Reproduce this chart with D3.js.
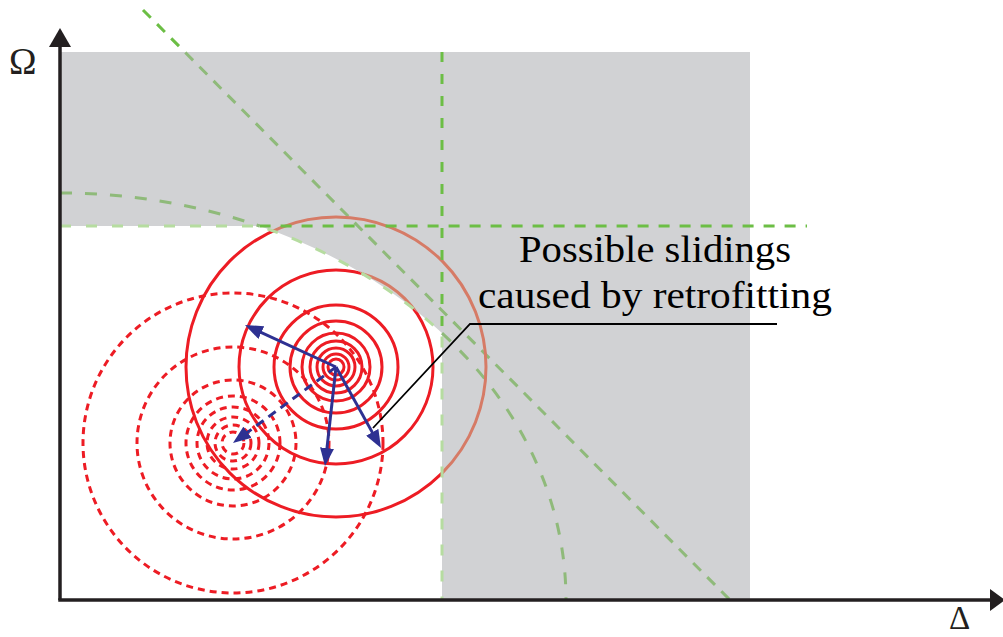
<!DOCTYPE html>
<html>
<head>
<meta charset="utf-8">
<script src="https://cdn.jsdelivr.net/npm/d3@7/dist/d3.min.js"></script>
<style>
  html, body { margin: 0; padding: 0; background: #ffffff; }
  svg { display: block; }
</style>
</head>
<body>
<script>
// ---- Diagram values (Δ, Ω units) ----
const axisLabels = ["Δ", "Ω"];
const axisExtent = [9.43, 6.0];          // Δ and Ω shown on the axes
const greyExtent = [6.90, 5.48];         // shaded domain
const deltaLimit = [3.82];               // vertical admissible limit on Δ
const omegaLimit = [3.74];               // horizontal admissible limit on Ω
const envelopeAxes = [5.06, 4.07];       // elliptic interaction envelope (Δ, Ω semi-axes)
const diagonalEnds = [[0.83, 5.90], [6.70, 0.0]];
const currentCentre = [2.76, 2.33];
const shiftedCentre = [1.73, 1.57];
const solidRadii = [1.50, 0.97, 0.62, 0.46, 0.34, 0.26, 0.19, 0.13, 0.08];
const dashedRadii = [1.50, 0.96, 0.63, 0.47, 0.36, 0.26, 0.18, 0.11];
const slidingTips = [[1.85, 2.75], [2.65, 1.34], [3.21, 1.52]];
const calloutLines = ["Possible slidings", "caused by retrofitting"];
const calloutPath = [[3.13, 1.72], [4.10, 2.76], [7.17, 2.76]];
const horizontalLimitEnd = [7.47];

// ---- Layout ----
const W = 1003, H = 637;
const x = d3.scaleLinear().domain([0, axisExtent[0]]).range([60, 1003]);
const y = d3.scaleLinear().domain([0, axisExtent[1]]).range([600, 0]);
const px = d => x(d) - x(0);

const RED = "#ed1c24", RED_IN_GREY = "#d67b66";
const GREEN = "#6cbe45", GREEN_IN_GREY = "#8fba7a", GREEN_PALE = "#b6dca0";
const GREY = "#d1d2d4", BLUE = "#2e3192", INK = "#231f20";

const svg = d3.select("body").append("svg").attr("width", W).attr("height", H);
const defs = svg.append("defs");

// Envelope geometry
const [ea, eb] = envelopeAxes;
const rx = px(ea), ry = y(0) - y(eb);
const dCross = ea * Math.sqrt(1 - Math.pow(omegaLimit[0] / eb, 2));   // Δ where envelope meets Ω limit
const oCross = eb * Math.sqrt(1 - Math.pow(deltaLimit[0] / ea, 2));   // Ω where envelope meets Δ limit
const arcTo = (d, o) => `A${rx},${ry} 0 0 1 ${x(d)},${y(o)}`;

// Admissible (white) region outline
const whitePath =
  `M${x(0)},${y(omegaLimit[0])} L${x(dCross)},${y(omegaLimit[0])} ` +
  arcTo(deltaLimit[0], oCross) +
  ` L${x(deltaLimit[0])},${y(0)} L${x(0)},${y(0)} Z`;
const greyRect =
  `M${x(0)},${y(greyExtent[1])} L${x(greyExtent[0])},${y(greyExtent[1])} ` +
  `L${x(greyExtent[0])},${y(0)} L${x(0)},${y(0)} Z`;
const greyPath = greyRect + " " + whitePath;
const outsideGreyPath = `M-10,-10 L${W + 10},-10 L${W + 10},${H + 10} L-10,${H + 10} Z ` + greyPath;

defs.append("clipPath").attr("id", "clip-grey")
  .append("path").attr("d", greyPath).attr("clip-rule", "evenodd");
defs.append("clipPath").attr("id", "clip-out")
  .append("path").attr("d", outsideGreyPath).attr("clip-rule", "evenodd");

// Shaded domain
svg.append("path").attr("d", greyPath).attr("fill", GREY).attr("fill-rule", "evenodd");

// Diagonal criterion line
const diagLine = d3.line().x(d => x(d[0])).y(d => y(d[1]));
svg.append("path").attr("d", diagLine(diagonalEnds)).attr("clip-path", "url(#clip-out)")
  .attr("fill", "none").attr("stroke", GREEN).attr("stroke-width", 3).attr("stroke-dasharray", "11,9");
svg.append("path").attr("d", diagLine(diagonalEnds)).attr("clip-path", "url(#clip-grey)")
  .attr("fill", "none").attr("stroke", GREEN_IN_GREY).attr("stroke-width", 3).attr("stroke-dasharray", "11,9");

// Envelope parts lying inside the shaded domain
const envA = `M${x(0)},${y(eb)} ` + arcTo(dCross, omegaLimit[0]);
const envB = `M${x(deltaLimit[0])},${y(oCross)} ` + arcTo(ea, 0);
[envA, envB].forEach(d => {
  svg.append("path").attr("d", d).attr("fill", "none").attr("stroke", GREEN_IN_GREY)
    .attr("stroke-width", 3).attr("stroke-dasharray", "12,13");
});

// Concentric circles: current (solid) and shifted (dashed)
function rings(clipId, colour) {
  const g = svg.append("g").attr("clip-path", `url(#${clipId})`).attr("fill", "none")
    .attr("stroke", colour).attr("stroke-width", 3);
  g.selectAll("circle.solid").data(solidRadii).join("circle").attr("class", "solid")
    .attr("cx", x(currentCentre[0])).attr("cy", y(currentCentre[1])).attr("r", d => px(d));
  g.selectAll("circle.dash").data(dashedRadii).join("circle").attr("class", "dash")
    .attr("cx", x(shiftedCentre[0])).attr("cy", y(shiftedCentre[1])).attr("r", d => px(d))
    .attr("stroke-dasharray", "7,5");
}
rings("clip-out", RED);
rings("clip-grey", RED_IN_GREY);

// Arrows
defs.append("marker").attr("id", "head").attr("markerUnits", "userSpaceOnUse")
  .attr("viewBox", "0 0 18 14").attr("markerWidth", 18).attr("markerHeight", 14)
  .attr("refX", 7).attr("refY", 7).attr("orient", "auto")
  .append("path").attr("d", "M0,0 L18,7 L0,14 Z").attr("fill", BLUE);

function arrow(from, to, dashed) {
  const x0 = x(from[0]), y0 = y(from[1]), x1 = x(to[0]), y1 = y(to[1]);
  const L = Math.hypot(x1 - x0, y1 - y0);
  const k = (L - 11) / L;
  svg.append("line").attr("x1", x0).attr("y1", y0)
    .attr("x2", x0 + (x1 - x0) * k).attr("y2", y0 + (y1 - y0) * k)
    .attr("stroke", BLUE).attr("stroke-width", 3)
    .attr("stroke-dasharray", dashed ? "9,6" : null)
    .attr("marker-end", "url(#head)");
}
arrow(currentCentre, shiftedCentre, true);
slidingTips.forEach(t => arrow(currentCentre, t, false));

// Admissible region boundary
svg.append("path").attr("d", `M${x(0)},${y(omegaLimit[0])} L${x(dCross)},${y(omegaLimit[0])} ` +
    arcTo(deltaLimit[0], oCross) + ` L${x(deltaLimit[0])},${y(0)}`)
  .attr("fill", "none").attr("stroke", GREEN_PALE).attr("stroke-width", 3).attr("stroke-dasharray", "11,15");

// Limit lines above the shaded domain
svg.append("line").attr("x1", x(dCross)).attr("x2", x(horizontalLimitEnd[0]))
  .attr("y1", y(omegaLimit[0])).attr("y2", y(omegaLimit[0]))
  .attr("stroke", GREEN).attr("stroke-width", 3).attr("stroke-dasharray", "11,10");
svg.append("line").attr("x1", x(deltaLimit[0])).attr("x2", x(deltaLimit[0]))
  .attr("y1", y(greyExtent[1])).attr("y2", y(oCross))
  .attr("stroke", GREEN).attr("stroke-width", 3).attr("stroke-dasharray", "10,12");

// Axes
svg.append("line").attr("x1", x(0)).attr("y1", y(0)).attr("x2", x(0)).attr("y2", 46)
  .attr("stroke", INK).attr("stroke-width", 3.5);
svg.append("path").attr("d", `M${x(0) - 11},47 L${x(0) + 11},47 L${x(0)},28 Z`).attr("fill", INK);
svg.append("line").attr("x1", x(0) - 1.75).attr("y1", y(0)).attr("x2", 991).attr("y2", y(0))
  .attr("stroke", INK).attr("stroke-width", 3.5);
svg.append("path").attr("d", `M990,${y(0) - 11} L990,${y(0) + 11} L1005,${y(0)} Z`).attr("fill", INK);

svg.append("text").attr("x", 9).attr("y", 74).text(axisLabels[1])
  .attr("font-family", "Liberation Serif, serif").attr("font-size", 37).attr("fill", INK);
svg.append("text").attr("x", 949).attr("y", 629).text(axisLabels[0])
  .attr("font-family", "Liberation Serif, serif").attr("font-size", 33).attr("fill", INK);

// Callout
svg.append("path").attr("d", d3.line().x(d => x(d[0])).y(d => y(d[1]))(calloutPath))
  .attr("fill", "none").attr("stroke", "#000").attr("stroke-width", 1.8);
const widths = [272, 354];
const baselines = [262, 308];
calloutLines.forEach((t, i) => {
  svg.append("text").attr("x", 655).attr("y", baselines[i]).attr("text-anchor", "middle")
    .attr("font-family", "Liberation Serif, serif").attr("font-size", 38).attr("fill", "#000")
    .attr("textLength", widths[i]).attr("lengthAdjust", "spacingAndGlyphs").text(t);
});
</script>
</body>
</html>
